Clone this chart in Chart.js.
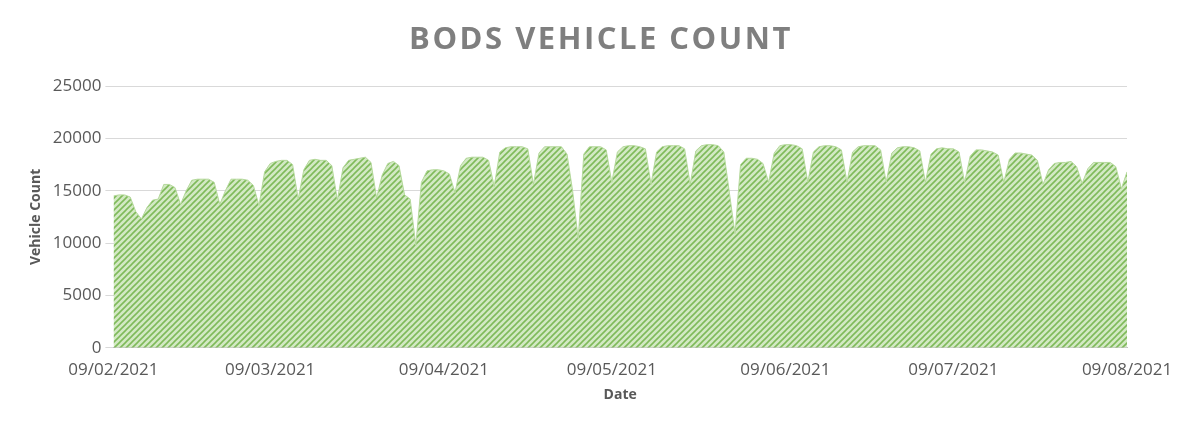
<!DOCTYPE html>
<html><head><meta charset="utf-8">
<script src="https://cdn.jsdelivr.net/npm/chart.js@4"></script>
<style>html,body{margin:0;background:#fff}#w{width:1200px;height:435px}</style>
</head><body><div id="w"><canvas id="c"></canvas></div>
<script>
// Daily counts 09/02/2021 .. 09/08/2021
const vehicleCounts = [
14500,14600,14600,14400,13000,12300,
13400,14100,14200,15600,15600,15300,13700,
15000,16000,16100,16100,16100,15800,13700,
15000,16100,16100,16100,16000,15500,13600,
16800,17600,17800,17900,17900,17500,14200,
17000,17900,18000,17900,17900,17400,14100,
17200,17900,18000,18100,18200,17700,14300,
16500,17600,17800,17400,14600,14200,9800,
15800,16900,17000,17000,16900,16600,14800,
17400,18100,18200,18200,18200,17900,15400,
18700,19100,19200,19200,19200,19000,15600,
18600,19200,19200,19200,19200,18500,15000,
10400,18500,19200,19200,19200,18900,15800,
18700,19200,19300,19300,19200,19000,15600,
18700,19200,19300,19300,19300,19000,15600,
18800,19300,19400,19400,19300,18700,14800,
10900,17500,18100,18100,18000,17600,15800,
18600,19300,19400,19400,19300,19000,15800,
18700,19200,19300,19300,19200,18900,15800,
18700,19200,19300,19300,19300,18900,15800,
18600,19100,19200,19200,19100,18800,15800,
18500,19000,19100,19000,19000,18700,15800,
18300,18900,18900,18800,18700,18400,15800,
18000,18600,18600,18500,18400,17900,15600,
17000,17600,17700,17700,17800,17300,15700,
17100,17700,17700,17700,17700,17300,15200,
16800];
const tickDays = [0,28,59,89,120,150,181];
const tickLabels = ["09/02/2021","09/03/2021","09/04/2021","09/05/2021","09/06/2021","09/07/2021","09/08/2021"];
const titleText = 'BODS VEHICLE COUNT';

function hatch(){
  const p=document.createElement('canvas');p.width=6;p.height=6;
  const g=p.getContext('2d');
  g.fillStyle='#d3e9c4';g.fillRect(0,0,6,6);
  g.strokeStyle='#7fba5a';g.lineWidth=1.6;
  g.beginPath();g.moveTo(0,6);g.lineTo(6,0);g.moveTo(-3,3);g.lineTo(3,-3);g.moveTo(3,9);g.lineTo(9,3);g.stroke();
  return g.createPattern(p,'repeat');
}
const titlePlugin={id:'tt',afterDraw(ch){const c=ch.ctx;c.save();c.font='bold 31px "Open Sans"';c.fillStyle='#7f7f7f';
  c.textAlign='center';c.textBaseline='middle';if('letterSpacing' in c)c.letterSpacing='2.5px';c.fillText(titleText,601,40);c.restore();}};
const pts = vehicleCounts.map((v,i)=>({x:i,y:v}));
const grey='#595959';
new Chart(document.getElementById('c'),{
  type:'line',
  plugins:[titlePlugin],
  data:{datasets:[{data:pts,fill:'origin',backgroundColor:hatch(),borderColor:'#b5d99c',borderWidth:1,pointRadius:0,tension:0}]},
  options:{responsive:true,maintainAspectRatio:false,animation:false,
    layout:{padding:{left:24,right:73,top:86,bottom:28}},
    plugins:{legend:{display:false},tooltip:{enabled:false},title:{display:false}},
    scales:{
      x:{type:'linear',min:0,max:181,
        afterBuildTicks:a=>{a.ticks=tickDays.map(v=>({value:v}));},
        ticks:{autoSkip:false,maxRotation:0,color:grey,font:{family:'Open Sans',size:17},padding:4,callback:(v)=>tickLabels[tickDays.indexOf(v)]},
        grid:{display:false},border:{color:'#bfbfbf'},
        title:{display:true,text:'Date',color:grey,font:{family:'Open Sans',size:14,weight:'bold'},padding:{top:2}}},
      y:{min:0,max:25000,ticks:{stepSize:5000,color:grey,font:{family:'Open Sans',size:17},padding:4,callback:v=>String(v)},
        grid:{color:'#d9d9d9'},border:{display:false},
        title:{display:true,text:'Vehicle Count',color:grey,font:{family:'Open Sans',size:14,weight:'bold'}}}
    }}
});
</script></body></html>
